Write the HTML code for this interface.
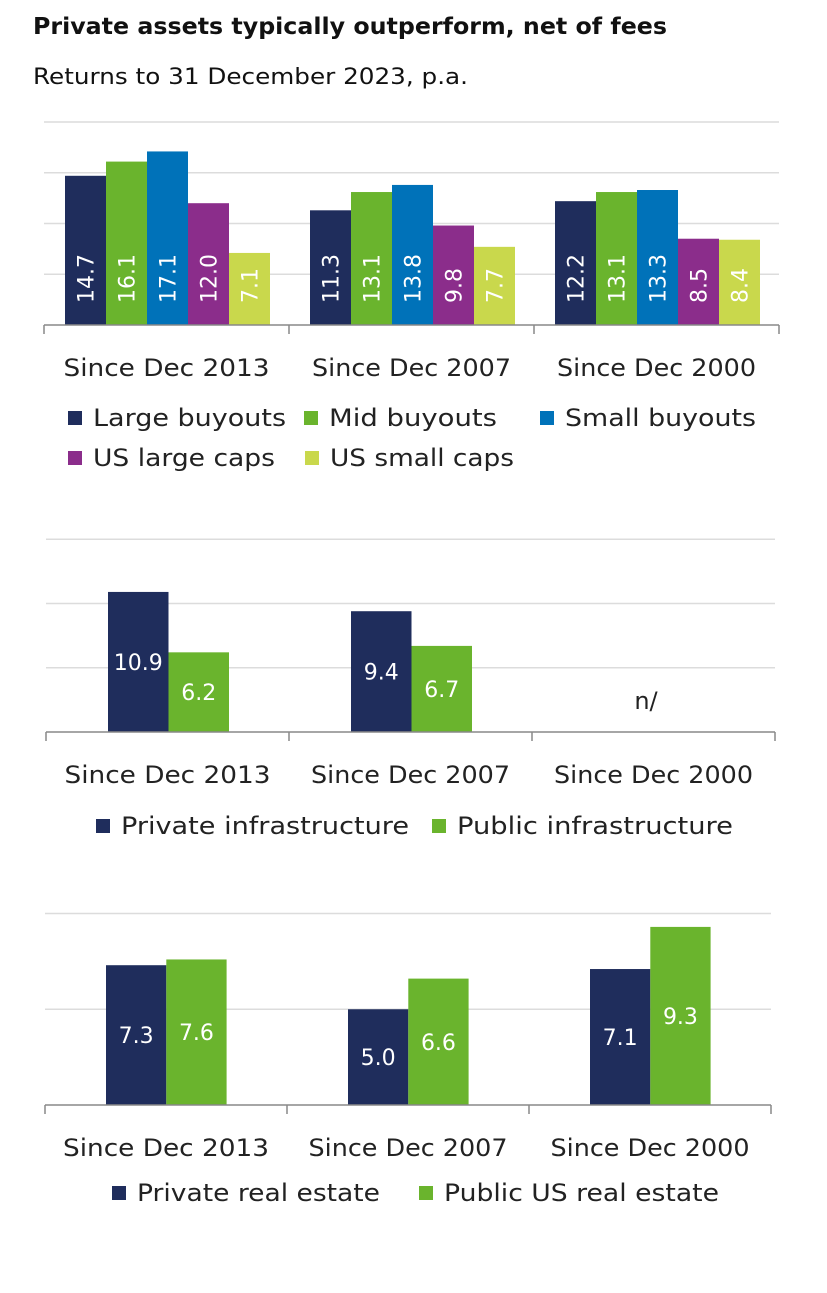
<!DOCTYPE html>
<html><head><meta charset="utf-8"><style>
body{margin:0;background:#fff;width:827px;height:1293px;overflow:hidden;font-family:"DejaVu Sans","Liberation Sans",sans-serif}
svg{position:absolute;left:0;top:0;font-family:"DejaVu Sans","Liberation Sans",sans-serif}
</style></head><body>
<svg id="s" width="827" height="1293">
<text x="33" y="34" font-size="23" font-weight="bold" fill="#111" textLength="634" lengthAdjust="spacingAndGlyphs">Private assets typically outperform, net of fees</text>
<text x="33" y="84" font-size="22" fill="#111" textLength="435" lengthAdjust="spacingAndGlyphs">Returns to 31 December 2023, p.a.</text>
</svg>
<script>
const categories=["Since  Dec 2013","Since Dec 2007","Since Dec 2000"];
const c1Series=["Large buyouts","Mid buyouts","Small buyouts","US large caps","US small caps"];
const c1Large=[14.7,11.3,12.2];
const c1Mid=[16.1,13.1,13.1];
const c1Small=[17.1,13.8,13.3];
const c1USLarge=[12.0,9.8,8.5];
const c1USSmall=[7.1,7.7,8.4];
const c2Series=["Private infrastructure","Public infrastructure"];
const c2Private=[10.9,9.4,null];
const c2Public=[6.2,6.7,null];
const c3Series=["Private real estate","Public US real estate"];
const c3Private=[7.3,5.0,7.1];
const c3Public=[7.6,6.6,9.3];
const ticks1=[0,5,10,15,20],ticks2=[0,5,10,15],ticks3=[0,5,10];
const NAVY="#1f2d5c",GREEN="#6ab42d",BLUE="#0072b9",PURPLE="#8b2d8b",LIME="#c9d84c";
const svg=document.getElementById('s');const NS="http://www.w3.org/2000/svg";
function mk(t,a,p){const e=document.createElementNS(NS,t);for(const k in a)e.setAttribute(k,a[k]);(p||svg).appendChild(e);return e;}
function chart(o){
  const y=v=>o.base-v*o.ppu;
  const g=mk('g',{});
  
  
  o.ticks.forEach(t=>{if(t>0){const l=mk('line',{x1:o.x0,x2:o.x1,y1:y(t),y2:y(t),stroke:"#dcdcdc","stroke-width":1.5},g);
    }});
  const gw=(o.x1-o.x0)/3;
  o.series.forEach((arr,si)=>{arr.forEach((v,ci)=>{
    if(v==null)return;
    const bx=o.x0+gw*ci+o.off+si*o.bw;
    const r=mk('rect',{x:bx,y:y(v),width:o.bw,height:v*o.ppu,fill:o.colors[si]},g);
    
    
    let t;
    if(o.rot){t=mk('text',{x:0,y:0,transform:`translate(${bx+o.bw/2+8},${o.base-22}) rotate(-90)`,"font-size":22,fill:"#fff"},g);}
    else{t=mk('text',{x:bx+o.bw/2,y:(y(v)+o.base)/2+8,"text-anchor":"middle","font-size":22,fill:"#fff"},g);}
    t.textContent=v.toFixed(1);
    
  });});
  const ax=mk('line',{x1:o.x0,x2:o.x1,y1:o.base,y2:o.base,stroke:"#888","stroke-width":1.5},g);
  
  for(let i=0;i<=3;i++){const tk=mk('line',{x1:o.x0+gw*i,x2:o.x0+gw*i,y1:o.base,y2:o.base+9,stroke:"#888","stroke-width":1.5},g);
    }
  categories.forEach((c,i)=>{const t=mk('text',{x:o.x0+gw*(i+0.5),y:o.base+51,"text-anchor":"middle","font-size":24,fill:"#222","xml:space":"preserve",textLength:i==0?206:199,lengthAdjust:"spacingAndGlyphs"},g);
    t.textContent=c;});
  o.legend.forEach(L=>{const r=mk('rect',{x:L[0],y:L[1]-15,width:14,height:14,fill:o.colors[L[2]]},g);
    
    const t=mk('text',{x:L[0]+25,y:L[1],"font-size":24,fill:"#222",textLength:L[3],lengthAdjust:"spacingAndGlyphs"},g);t.textContent=o.snames[L[2]];
    });
  return g;
}
chart({name:'buyouts-chart',x0:44,x1:779,base:325,ppu:10.15,ticks:ticks1,off:21,bw:41,rot:true,
  series:[c1Large,c1Mid,c1Small,c1USLarge,c1USSmall],colors:[NAVY,GREEN,BLUE,PURPLE,LIME],snames:c1Series,
  legend:[[68,426,0,193],[304,426,1,168],[540,426,2,191],[68,466,3,182],[305,466,4,184]]});
chart({name:'infrastructure-chart',x0:46,x1:775,base:732,ppu:12.85,ticks:ticks2,off:62,bw:60.5,rot:false,
  series:[c2Private,c2Public],colors:[NAVY,GREEN],snames:c2Series,
  legend:[[96,834,0,288],[432,834,1,276]]});
const na=mk('text',{x:646,y:709,"text-anchor":"middle","font-size":24,fill:"#222"});na.textContent="n/";

chart({name:'real-estate-chart',x0:45,x1:771,base:1105,ppu:19.15,ticks:ticks3,off:61,bw:60.3,rot:false,
  series:[c3Private,c3Public],colors:[NAVY,GREEN],snames:c3Series,
  legend:[[112,1201,0,243],[419,1201,1,275]]});
</script>
</body></html>
